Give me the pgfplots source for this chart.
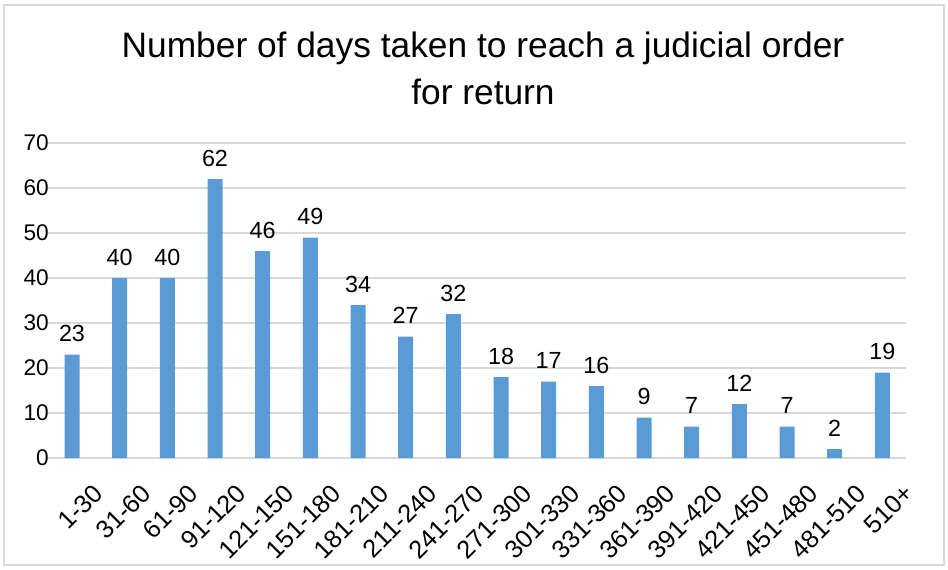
\documentclass[border=0pt]{standalone}
\usepackage{pgfplots}
\pgfplotsset{compat=1.18}
\usepackage{fontspec}
\setmainfont{Liberation Sans}
\definecolor{barblue}{HTML}{5B9BD5}
\definecolor{gridgray}{HTML}{D9D9D9}
\begin{document}
\begin{tikzpicture}
\path[use as bounding box] (-54pt,-83.25pt) rectangle (657pt,343.5pt);
\draw[gridgray, line width=0.8pt] (-51pt,-80.25pt) rectangle (654pt,339.75pt);
\begin{axis}[
  at={(0pt,0pt)}, anchor=origin,
  scale only axis, width=643.5pt, height=236.25pt,
  ybar, bar width=11.25pt,
  xmin=-0.5, xmax=17.5, ymin=0, ymax=70,
  ytick={0,10,...,70},
  xtick=data,
  xticklabels={1-30,31-60,61-90,91-120,121-150,151-180,181-210,211-240,241-270,271-300,301-330,331-360,361-390,391-420,421-450,451-480,481-510,510+},
  axis lines*=left,
  x axis line style={gridgray, line width=1pt},
  y axis line style={draw=none},
  ymajorgrids, grid style={gridgray, line width=0.8pt},
  major tick length=0pt,
  /pgf/number format/assume math mode=true,
  yticklabel style={font=\fontsize{17pt}{19pt}\selectfont, xshift=4pt},
  xticklabel style={font=\fontsize{19pt}{21pt}\selectfont, rotate=45, anchor=north east, xshift=1pt, yshift=-20pt},
  nodes near coords,
  every node near coord/.append style={font=\fontsize{17.5pt}{19pt}\selectfont, yshift=6pt},
  clip=false,
]
\addplot[fill=barblue, draw=none] coordinates {
(0,23) (1,40) (2,40) (3,62) (4,46) (5,49) (6,34) (7,27) (8,32)
(9,18) (10,17) (11,16) (12,9) (13,7) (14,12) (15,7) (16,2) (17,19)};
\end{axis}
\node[align=center, font=\fontsize{26.5pt}{35pt}\selectfont] at (308.25pt,292pt) {Number of days taken to reach a judicial order\\for return};
\end{tikzpicture}
\end{document}
